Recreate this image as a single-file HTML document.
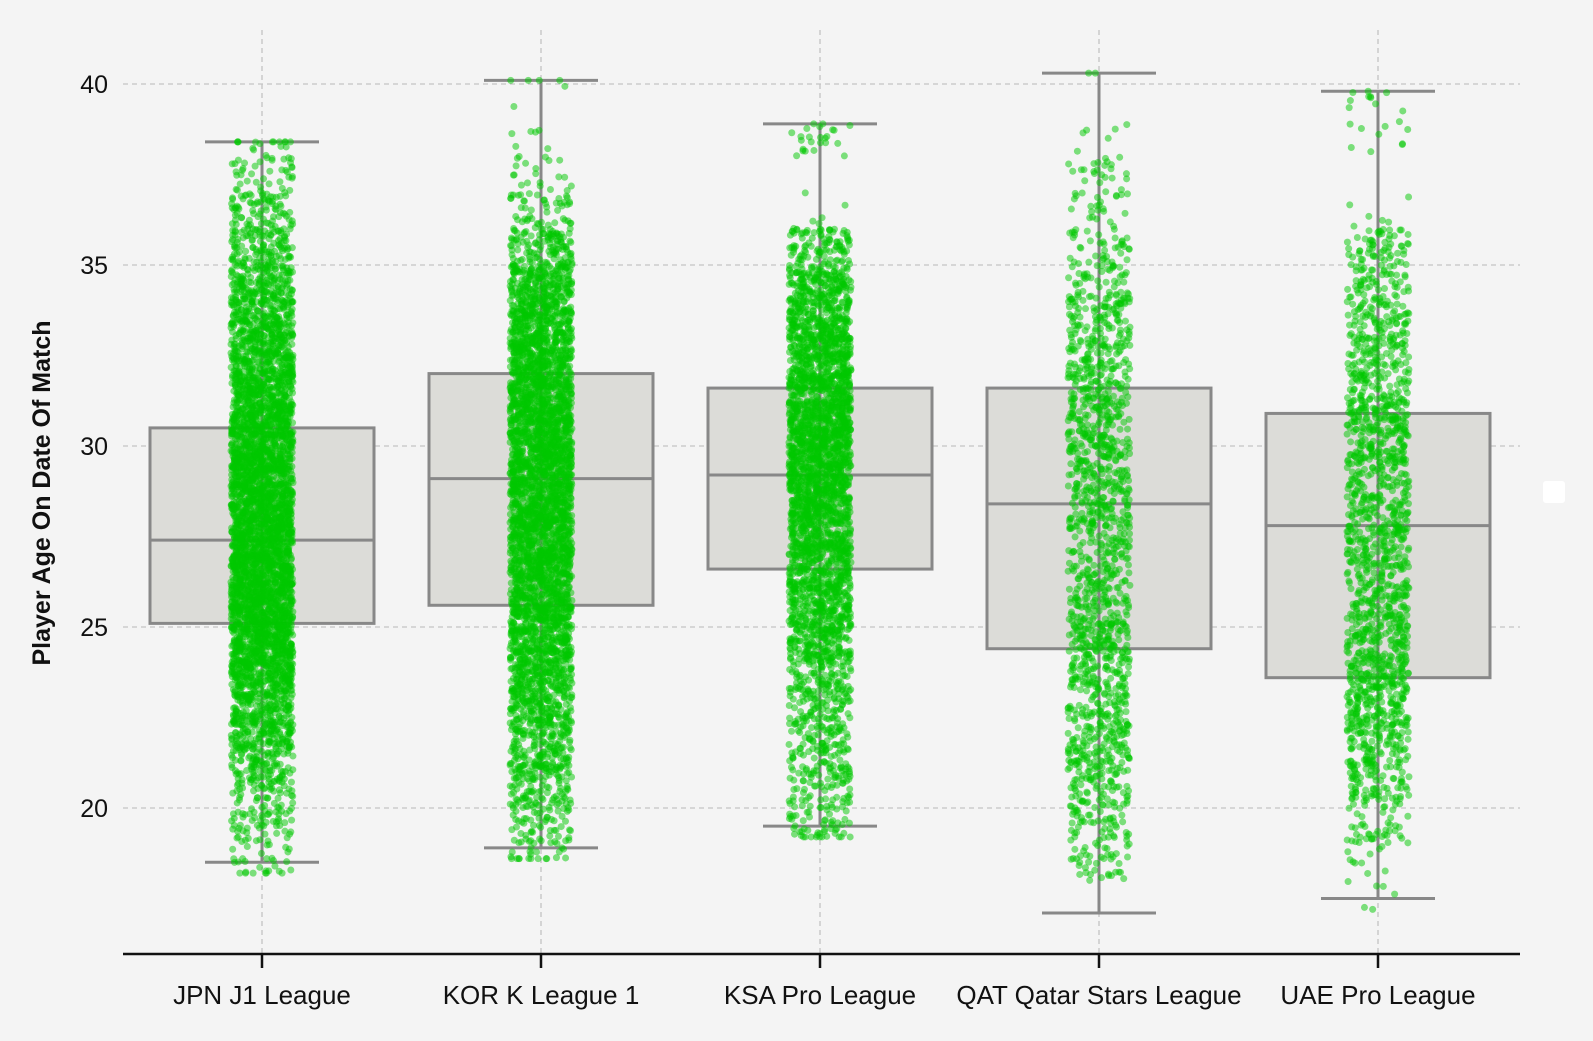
<!DOCTYPE html>
<html><head><meta charset="utf-8"><style>
html,body{margin:0;padding:0;background:#f4f4f4;}
svg{display:block;font-family:"Liberation Sans",sans-serif;}
</style></head><body>
<svg id="chart" width="1593" height="1041" viewBox="0 0 1593 1041">
<rect width="1593" height="1041" fill="#f4f4f4"/>
<g id="grid"></g><g id="boxes"></g><g id="whisk"></g><g id="pts"></g><g id="axes"></g>
<rect x="1543" y="481" width="22" height="22" rx="3" fill="#ffffff"/>
</svg>
<script>
const categories=["JPN J1 League","KOR K League 1","KSA Pro League","QAT Qatar Stars League","UAE Pro League"];
const q1=[25.1,25.6,26.6,24.4,23.6];
const medians=[27.4,29.1,29.2,28.4,27.8];
const q3=[30.5,32.0,31.6,31.6,30.9];
const whiskLo=[18.5,18.9,19.5,17.1,17.5];
const whiskHi=[38.4,40.1,38.9,40.3,39.8];
const yTicks=[20,25,30,35,40];
const binStart=17;
const countsJPN=[0,15,30,40,70,100,140,180,200,210,200,200,190,170,150,130,110,90,60,40,20,8,0,0];
const countsKOR=[0,10,30,50,70,90,110,130,150,160,170,170,170,170,160,150,130,110,60,25,10,3,1,2];
const countsKSA=[1,0,25,35,40,45,55,90,110,110,130,150,160,170,150,130,110,90,50,3,0,12,0,0];
const countsQAT=[0,20,25,35,50,45,45,55,50,40,45,50,50,50,50,45,40,30,20,12,12,3,0,1];
const countsUAE=[3,5,20,35,45,60,70,60,55,50,55,50,55,60,50,45,40,30,30,3,0,5,5,0];
const counts=[countsJPN,countsKOR,countsKSA,countsQAT,countsUAE];

const NS="http://www.w3.org/2000/svg";
const DENS=2;
const X0=123,X1=1520,Ytop=30,Yax=954;
const xC=i=>262+i*279;
const y=v=>84+(40-v)*(808-84)/20;
function h(n){const s=Math.sin(n*12.9898+78.233)*43758.5453;return s-Math.floor(s);}
function mk(parent,tag,attrs){const e=document.createElementNS(NS,tag);for(const k in attrs)e.setAttribute(k,attrs[k]);document.getElementById(parent).appendChild(e);return e;}
yTicks.forEach(t=>{
 const l=mk('grid','line',{x1:X0,x2:X1,y1:y(t),y2:y(t),stroke:'#c4c4c4','stroke-width':1.3,'stroke-dasharray':'5,4'});
 
 
 const tx=mk('axes','text',{x:108,y:y(t)+9,'text-anchor':'end','font-size':25,fill:'#111'});
 tx.textContent=t;
 
 
});
categories.forEach((c,i)=>{
 const l=mk('grid','line',{x1:xC(i),x2:xC(i),y1:Ytop,y2:Yax,stroke:'#c4c4c4','stroke-width':1.3,'stroke-dasharray':'5,4'});
 
 
 const w=112;
 const b=mk('boxes','rect',{x:xC(i)-w,y:y(q3[i]),width:2*w,height:y(q1[i])-y(q3[i]),fill:'#dcdcd8',stroke:'#888','stroke-width':3});
 
 
 const m=mk('whisk','line',{x1:xC(i)-w,x2:xC(i)+w,y1:y(medians[i]),y2:y(medians[i]),stroke:'#888','stroke-width':3});
 
 
 const wl=mk('whisk','line',{x1:xC(i),x2:xC(i),y1:y(whiskHi[i]),y2:y(whiskLo[i]),stroke:'#888','stroke-width':3});
 
 
 [whiskHi[i],whiskLo[i]].forEach(v=>{
  const cap=mk('whisk','line',{x1:xC(i)-57,x2:xC(i)+57,y1:y(v),y2:y(v),stroke:'#888','stroke-width':3});
  
  
 });
 const g=mk('pts','g',{fill:'#00c800','fill-opacity':0.5});
 
 
 let k=0;
 counts[i].forEach((n,bi)=>{
  for(let j=0;j<n*DENS;j++){
   k++;
   const fx=h(k*3.1+i*1000)*2-1;
   const fy=h(k*7.7+i*2000+0.5);
   const v=Math.min(whiskHi[i],Math.max(whiskLo[i]-0.3,binStart+bi+fy));
   const p=document.createElementNS(NS,'circle');
   p.setAttribute('cx',xC(i)+fx*31);p.setAttribute('cy',y(v));p.setAttribute('r',3.5);
   g.appendChild(p);
  }
 });
 const tk=mk('axes','line',{x1:xC(i),x2:xC(i),y1:Yax,y2:Yax+14,stroke:'#111','stroke-width':2.5});
 
 
 const tl=mk('axes','text',{x:xC(i),y:1004,'text-anchor':'middle','font-size':26,fill:'#111'});
 tl.textContent=c;
 
 
});
const ax=mk('axes','line',{x1:X0,x2:X1,y1:Yax,y2:Yax,stroke:'#111','stroke-width':2.5});


const yl=mk('axes','text',{x:0,y:0,transform:'translate(50,493) rotate(-90)','text-anchor':'middle','font-size':25,'font-weight':'bold',fill:'#111'});
yl.textContent='Player Age On Date Of Match';


</script>
</body></html>
